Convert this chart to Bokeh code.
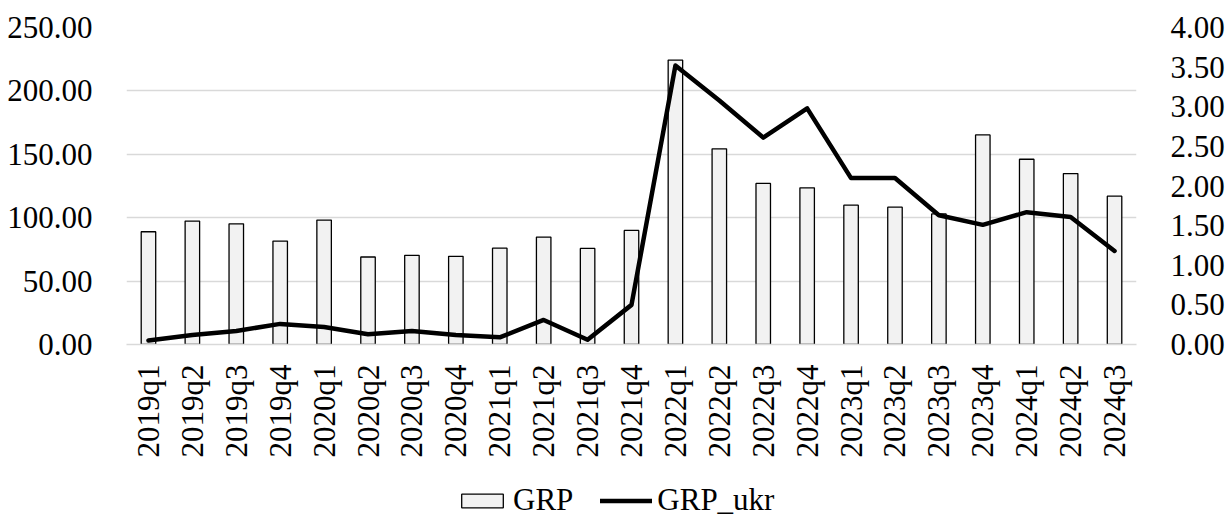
import math
from bokeh.plotting import figure
from bokeh.layouts import column
from bokeh.models import (ColumnDataSource, Range1d, FactorRange, LinearAxis,
                          NumeralTickFormatter, FixedTicker, Legend, LegendItem)
from bokeh.embed import file_html
from bokeh.resources import INLINE

quarters = ["2019q1", "2019q2", "2019q3", "2019q4", "2020q1", "2020q2", "2020q3", "2020q4",
            "2021q1", "2021q2", "2021q3", "2021q4", "2022q1", "2022q2", "2022q3", "2022q4",
            "2023q1", "2023q2", "2023q3", "2023q4", "2024q1", "2024q2", "2024q3"]
grp = [88.9, 97.3, 95.2, 81.6, 98.1, 69.0, 70.3, 69.5, 76.0, 84.7, 75.8, 90.0,
       224.3, 154.3, 127.0, 123.6, 109.9, 108.3, 103.0, 165.3, 146.1, 134.8, 117.0]
grp_ukr = [0.05, 0.12, 0.17, 0.26, 0.22, 0.13, 0.17, 0.12, 0.09, 0.31, 0.06, 0.50,
           3.52, 3.08, 2.61, 2.98, 2.10, 2.10, 1.63, 1.51, 1.67, 1.61, 1.18]
left_ticks = [0, 50, 100, 150, 200, 250]
right_ticks = [0, 0.5, 1.0, 1.5, 2.0, 2.5, 3.0, 3.5, 4.0]
series_names = ["GRP", "GRP_ukr"]

FONT = "Liberation Serif"
FS = "31px"
BAR_STYLE = dict(fill_color="#f2f2f2", line_color="black", line_width=1.3)
LINE_STYLE = dict(line_color="black", line_width=4.5, line_join="round", line_cap="round")

src = ColumnDataSource(dict(q=quarters, grp=grp, ukr=grp_ukr))

p = figure(width=1227, height=470, output_backend="svg", toolbar_location=None,
           x_range=FactorRange(factors=quarters, range_padding=0),
           y_range=Range1d(0, 250),
           min_border_left=126, min_border_right=87, min_border_top=27, min_border_bottom=126)
p.extra_y_ranges = {"right": Range1d(0, 4)}
p.outline_line_color = None
p.background_fill_color = "white"
p.border_fill_color = "white"

p.vbar(x="q", top="grp", width=0.33, source=src, **BAR_STYLE)
p.line(x="q", y="ukr", source=src, y_range_name="right", **LINE_STYLE)

p.xaxis.major_label_orientation = math.pi / 2
p.xaxis.major_label_standoff = 20
p.xaxis.axis_line_color = "#d9d9d9"
p.xaxis.axis_line_width = 1.5
p.xaxis.major_tick_line_color = None
p.xaxis.minor_tick_line_color = None
p.xaxis.major_tick_out = 0
p.xaxis.major_label_text_font = FONT
p.xaxis.major_label_text_font_size = FS
p.xaxis.major_label_text_color = "black"

p.yaxis.ticker = FixedTicker(ticks=left_ticks)
p.yaxis.formatter = NumeralTickFormatter(format="0.00")
p.yaxis.axis_line_color = None
p.yaxis.major_tick_line_color = None
p.yaxis.minor_tick_line_color = None
p.yaxis.major_label_standoff = 28
p.yaxis.major_label_text_font = FONT
p.yaxis.major_label_text_font_size = FS
p.yaxis.major_label_text_color = "black"

raxis = LinearAxis(y_range_name="right", ticker=FixedTicker(ticks=right_ticks),
                   formatter=NumeralTickFormatter(format="0.00"))
raxis.axis_line_color = None
raxis.major_tick_line_color = None
raxis.minor_tick_line_color = None
raxis.major_label_standoff = 28
raxis.major_label_text_font = FONT
raxis.major_label_text_font_size = FS
raxis.major_label_text_color = "black"
p.add_layout(raxis, "right")

p.xgrid.grid_line_color = None
p.ygrid.grid_line_color = "#d9d9d9"
p.ygrid.grid_line_width = 1.5
p.ygrid.ticker = FixedTicker(ticks=left_ticks)

# legend strip below the chart; its key renderers are muted (invisible in the strip),
# the legend still draws their normal glyph style
lg = figure(width=1227, height=48, output_backend="svg", toolbar_location=None,
            x_axis_type=None, y_axis_type=None,
            x_range=FactorRange(factors=quarters, range_padding=0), y_range=Range1d(1000, 1001),
            min_border_left=0, min_border_right=0, min_border_top=0, min_border_bottom=0)
lg.outline_line_color = None
lg.background_fill_color = "white"
lg.border_fill_color = "white"
key_bar = lg.vbar(x="q", top="grp", width=0.33, source=src, muted_alpha=0, **BAR_STYLE)
key_line = lg.line(x="q", y="ukr", source=src, muted_alpha=0, **LINE_STYLE)
key_bar.muted = True
key_line.muted = True

legend = Legend(items=[LegendItem(label=series_names[0], renderers=[key_bar]),
                       LegendItem(label=series_names[1], renderers=[key_line])],
                orientation="horizontal", location=(330, 0),
                label_text_font=FONT, label_text_font_size=FS, label_text_color="black",
                glyph_width=52, glyph_height=17, label_standoff=5, spacing=27,
                padding=0, margin=0, border_line_color=None, background_fill_alpha=0,
                inactive_fill_alpha=0)
lg.add_layout(legend, "center")

layout = column(p, lg, spacing=0)
open("out.html", "w").write(file_html(layout, INLINE))
